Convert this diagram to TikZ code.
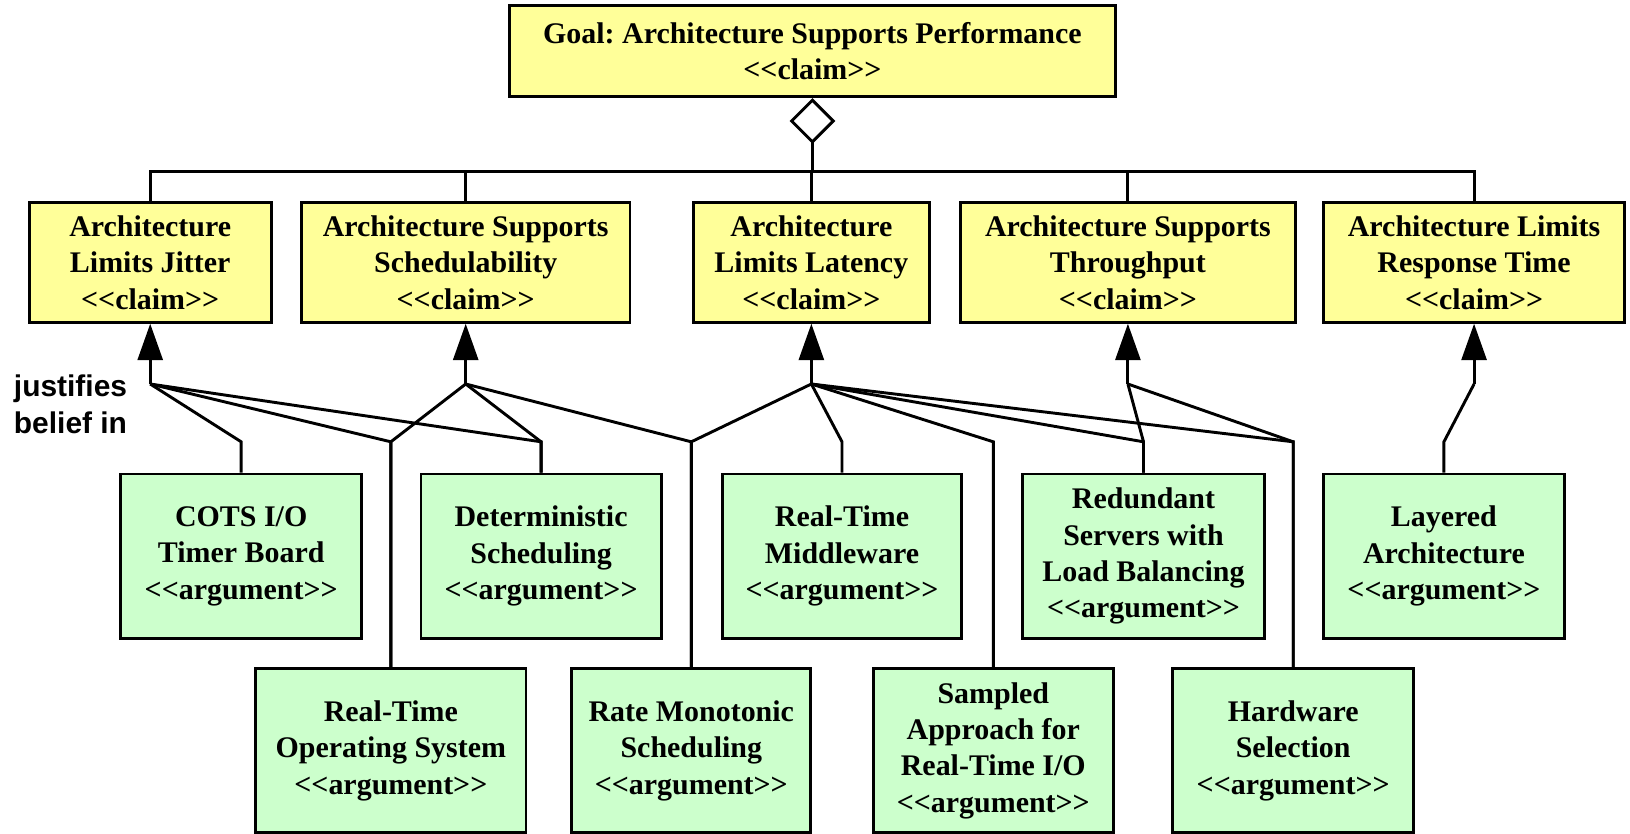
\documentclass[tikz,border=0pt]{standalone}
\usepackage{fontspec}
\setmainfont{Liberation Serif}
\setsansfont{Liberation Sans}
\usepackage{tikz}
\usetikzlibrary{positioning}
\usetikzlibrary{arrows.meta,calc}
\definecolor{claimfill}{HTML}{FFFF99}
\definecolor{argfill}{HTML}{CCFFCC}
\newcommand{\stereo}[1]{<\kern0pt<#1>\kern0pt>}
\frenchspacing

\begin{document}
\begin{tikzpicture}[x=0.5pt,y=-0.5pt,
  every node/.style = {shape=rectangle, draw, line width=1.4pt,
    align=center, inner sep=0pt,
    font=\fontsize{14.4}{17.5}\selectfont\bfseries},
  claimbox/.style = {fill=claimfill, minimum height=57.5pt},
  argbox/.style = {fill=argfill, minimum height=79pt},
  link/.style = {draw, line width=1.4pt},
  justify/.style = {link, -{Triangle[length=17.5pt,width=12pt]}}
  ]
  \useasboundingbox (0,0) rectangle (1568,802);

  % goal and claims
  \node[claimbox, minimum width=291.5pt, minimum height=44pt] (goal) at (781.5,49)
    {Goal: Architecture Supports Performance\\\stereo{claim}};
  \node[claimbox, minimum width=116.5pt] (jitter) at (144.5,252.5)
    {Architecture\\Limits Jitter\\\stereo{claim}};
  \node[claimbox, minimum width=158pt] (sched) at (448,252.5)
    {Architecture Supports\\Schedulability\\\stereo{claim}};
  \node[claimbox, minimum width=113.5pt] (latency) at (780.5,252.5)
    {Architecture\\Limits Latency\\\stereo{claim}};
  \node[claimbox, minimum width=161pt] (thru) at (1085,252.5)
    {Architecture Supports\\Throughput\\\stereo{claim}};
  \node[claimbox, minimum width=145pt] (resp) at (1418,252.5)
    {Architecture Limits\\Response Time\\\stereo{claim}};

  % arguments, upper row
  \node[argbox, minimum width=116pt] (cots) at (232,535)
    {COTS I/O\\Timer Board\\\stereo{argument}};
  \node[argbox, minimum width=115.5pt] (det) at (520.5,535)
    {Deterministic\\Scheduling\\\stereo{argument}};
  \node[argbox, minimum width=115pt] (rtm) at (810,535)
    {Real-Time\\Middleware\\\stereo{argument}};
  \node[argbox, minimum width=116pt] (red) at (1100,535)
    {Redundant\\Servers with\\Load Balancing\\\stereo{argument}};
  \node[argbox, minimum width=116pt] (lay) at (1389,535)
    {Layered\\Architecture\\\stereo{argument}};

  % arguments, lower row
  \node[argbox, minimum width=130pt] (rtos) at (376,722)
    {Real-Time\\Operating System\\\stereo{argument}};
  \node[argbox, minimum width=115pt] (rms) at (665,722)
    {Rate Monotonic\\Scheduling\\\stereo{argument}};
  \node[argbox, minimum width=115.5pt] (samp) at (955.5,722)
    {Sampled\\Approach for\\Real-Time I/O\\\stereo{argument}};
  \node[argbox, minimum width=116pt] (hw) at (1244,722)
    {Hardware\\Selection\\\stereo{argument}};

  \node[draw=none, anchor=west, align=left, font=\fontsize{14.4}{17.5}\selectfont\sffamily\bfseries]
    (lbl) at (12,389) {justifies\\belief in};

  % aggregation
  \coordinate (bus) at (0,165);
  \coordinate (bend) at (0,425);
  \draw[link, {Diamond[open,length=22pt,width=22pt]}-] (goal.south) -- (goal.south |- bus);
  \draw[link] (jitter.north) -- (jitter.north |- bus) -- (resp.north |- bus) -- (resp.north);
  \foreach \c in {sched,latency,thru}
    \draw[link] (\c.north) -- (\c.north |- bus);

  % justifications
  \foreach \c/\j in {jitter/jjit,sched/jsch,latency/jlat,thru/jthr,resp/jres}{
    \coordinate[below=29pt of \c] (\j);
    \draw[justify] (\j) -- (\c.south);
  }
  \foreach \j/\a in {jjit/cots,jjit/rtos,jjit/det,jsch/rtos,jsch/det,jsch/rms,
                     jlat/rms,jlat/rtm,jlat/samp,jlat/red,jlat/hw,
                     jthr/red,jthr/hw,jres/lay}
    \draw[link] (\a.north) -- (\a.north |- bend) -- (\j);
\end{tikzpicture}
\end{document}
